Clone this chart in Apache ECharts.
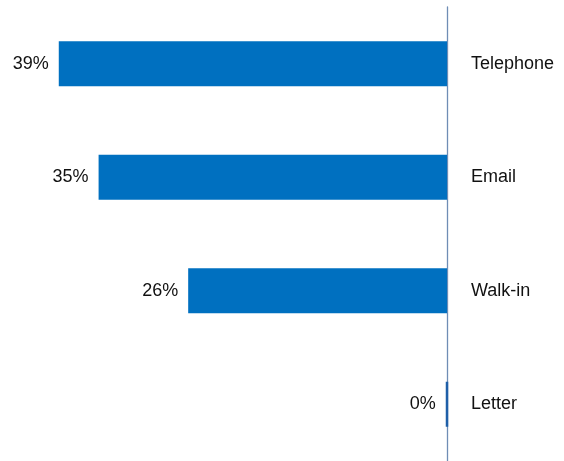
<!DOCTYPE html>
<html>
<head>
<meta charset="utf-8">
<script src="https://cdn.jsdelivr.net/npm/echarts@6/dist/echarts.min.js"></script>
<style>
  html, body { margin: 0; padding: 0; background: #fff; }
  #chart { width: 564px; height: 461px; }
</style>
</head>
<body>
<div id="chart"></div>
<script>
// Contact channels and their share of enquiries (percent)
const categories = ['Telephone', 'Email', 'Walk-in', 'Letter'];
const shares = [39, 35, 26, 0];

const chart = echarts.init(document.getElementById('chart'));
const font = '"Liberation Sans", Arial, sans-serif';

// Zero-valued bars keep a thin outline so the category still shows a mark
const barData = shares.map(v => (v > 0
  ? { value: v }
  : { value: v, itemStyle: { color: '#1F5FA8', borderColor: '#1F5FA8', borderWidth: 2.5 } }));

chart.setOption({
  animation: false,
  grid: { left: 9, right: 117, top: 7, bottom: 0, containLabel: false },
  xAxis: {
    type: 'value',
    inverse: true,
    min: 0,
    max: 44,
    show: false
  },
  yAxis: {
    type: 'category',
    data: categories,
    inverse: true,
    position: 'right',
    z: 0,
    axisLine: { show: true, lineStyle: { color: '#6F8DB5', width: 1.3 } },
    axisTick: { show: false },
    axisLabel: {
      margin: 24,
      color: '#111',
      fontFamily: font,
      fontSize: 18
    },
    splitLine: { show: false }
  },
  series: [{
    type: 'bar',
    data: barData,
    barWidth: 45,
    z: 5,
    itemStyle: { color: '#0070C0' },
    label: {
      show: true,
      position: 'left',
      distance: 10,
      formatter: '{c}%',
      color: '#111',
      fontFamily: font,
      fontSize: 18
    }
  }]
});
</script>
</body>
</html>
